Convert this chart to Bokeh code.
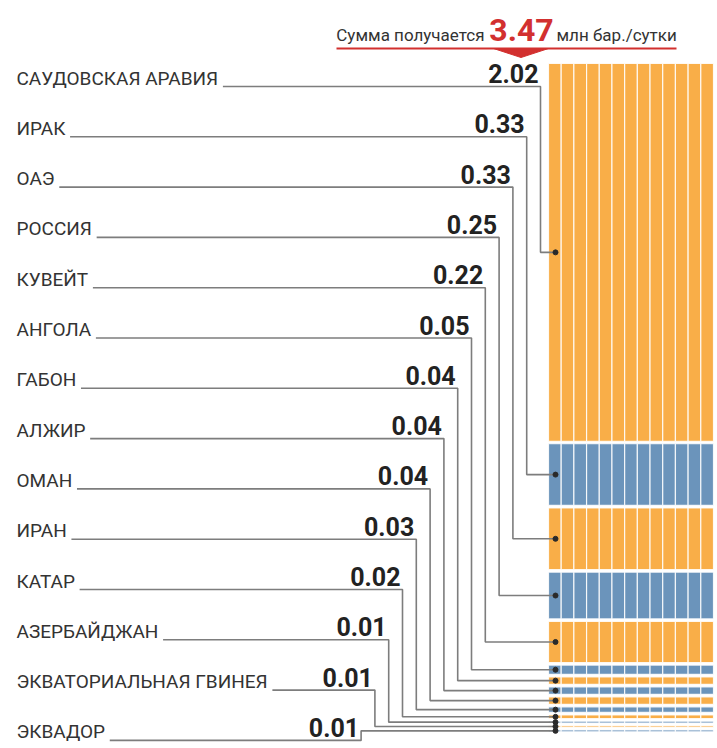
from bokeh.plotting import figure
from bokeh.models import Range1d, ColumnDataSource, LabelSet
from bokeh.core.properties import value
from bokeh.embed import file_html
from bokeh.resources import INLINE

# ---- data ----
countries = ["САУДОВСКАЯ АРАВИЯ", "ИРАК", "ОАЭ", "РОССИЯ", "КУВЕЙТ", "АНГОЛА", "ГАБОН",
             "АЛЖИР", "ОМАН", "ИРАН", "КАТАР", "АЗЕРБАЙДЖАН", "ЭКВАТОРИАЛЬНАЯ ГВИНЕЯ", "ЭКВАДОР"]
cuts = [2.02, 0.33, 0.33, 0.25, 0.22, 0.05, 0.04, 0.04, 0.04, 0.03, 0.02, 0.01, 0.01, 0.01]
total_label = "3.47"
header_left = "Сумма получается"
header_right = "млн бар./сутки"

# ---- style / layout ----
ORANGE = "#f9ae48"
BLUE = "#6b94bb"
RED = "#d2302f"
LINE = "#7d7d7d"
W, H = 717, 748
TOP = 63.0          # px of stack top
S = 187.0           # px per million barrels
GAP = 2.5 / S


def Y(cy):
    return (cy - TOP) / S


p = figure(width=W, height=H, x_range=Range1d(0, W), y_range=Range1d(Y(H), Y(0)),
           output_backend="svg", toolbar_location=None, min_border=0,
           x_axis_type=None, y_axis_type=None)
p.grid.visible = False
p.outline_line_color = None
p.background_fill_color = "white"

n = len(cuts)
tops = []
acc = 0.0
for i, v in enumerate(cuts):
    tops.append(acc + i * GAP)
    acc += v
bottoms = [t + v for t, v in zip(tops, cuts)]
mids = [(t + b) / 2 for t, b in zip(tops, bottoms)]
colors = [ORANGE if i % 2 == 0 else BLUE for i in range(n)]

# tiles
BAR_L, BAR_R, NCOL = 548.0, 713.0, 13
cw = (BAR_R - BAR_L) / NCOL
tl, tr, tt, tb, tc = [], [], [], [], []
for i in range(n):
    for j in range(NCOL):
        tl.append(BAR_L + j * cw)
        tr.append(BAR_L + (j + 1) * cw)
        tt.append(tops[i])
        tb.append(bottoms[i])
        tc.append(colors[i])
p.quad(left=tl, right=tr, top=tt, bottom=tb, fill_color=tc,
       line_color="white", line_width=1.2, line_alpha=0.85)

# rows & connectors
ROW0, STEP = 86.0, 50.3
rows = [Y(ROW0 + i * STEP) for i in range(n)]
CORNER0, CSTEP = 540.0, 13.8
corners = [CORNER0 - i * CSTEP for i in range(n)]
DOT_X = 555.0
xs = [[22, c, c, DOT_X] for c in corners]
ys = [[r, r, m, m] for r, m in zip(rows, mids)]
p.multi_line(xs=xs, ys=ys, line_color=LINE, line_width=1.6)
p.scatter(x=[DOT_X] * n, y=mids, size=5, color="#2a2a2a")

# value labels
p.text(x=corners, y=rows, text=[f"{v:.2f}" for v in cuts], x_offset=-2, y_offset=-13,
       text_align="right", text_baseline="middle",
       text_font=value("Roboto"), text_font_style="bold", text_font_size="25px",
       text_color="#222222")

# country labels (white background masks the leader line under the text)
src = ColumnDataSource(dict(x=[16] * n, y=rows, t=[c + " " for c in countries]))
p.add_layout(LabelSet(x="x", y="y", text="t", source=src, y_offset=2,
                      text_align="left", text_baseline="alphabetic",
                      text_font=value("Roboto"), text_font_size="19px", text_color="#333333",
                      background_fill_color="white"))

# header
p.text(x=[484], y=[Y(34)], text=[header_left], text_align="right", text_baseline="middle",
       text_font=value("Roboto"), text_font_size="17px", text_color="#333333")
p.text(x=[521], y=[Y(29)], text=[total_label], text_align="center", text_baseline="middle",
       text_font=value("Roboto"), text_font_style="bold", text_font_size="32px", text_color=RED)
p.text(x=[556], y=[Y(34)], text=[header_right], text_align="left", text_baseline="middle",
       text_font=value("Roboto"), text_font_size="17px", text_color="#333333")
p.segment(x0=[336], y0=[Y(48)], x1=[676], y1=[Y(48)], line_color=RED, line_width=2)
p.patch(x=[493, 548, 520.5], y=[Y(48), Y(48), Y(57)], fill_color=RED, line_color=RED)

open("out.html", "w").write(file_html(p, INLINE))
